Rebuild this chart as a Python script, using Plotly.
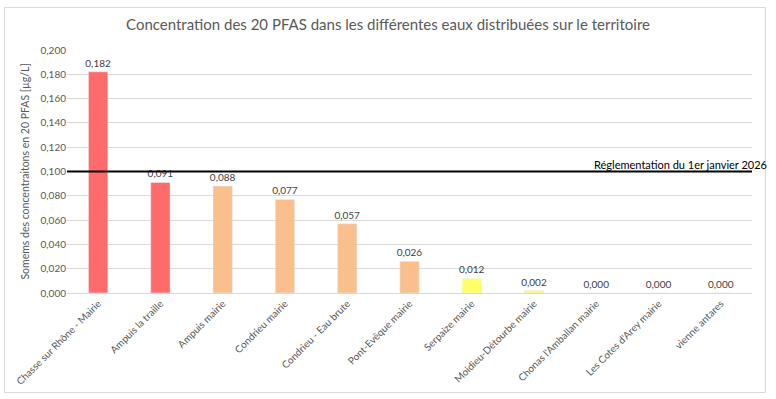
import plotly.graph_objects as go

categories = ["Chasse sur Rhône - Mairie", "Ampuis la traille", "Ampuis mairie", "Condrieu mairie",
              "Condrieu - Eau brute", "Pont-Evêque mairie", "Serpaize mairie", "Moidieu-Détourbe mairie",
              "Chonas l'Amballan mairie", "Les Cotes d'Arey mairie", "vienne antares"]
values = [0.182, 0.091, 0.088, 0.077, 0.057, 0.026, 0.012, 0.002, 0.0, 0.0, 0.0]
bar_colors = ["#FF6B6B", "#FF6B6B", "#F9C08E", "#F9C08E", "#F9C08E", "#F9C08E",
              "#FFFF66", "#FFFF66", "#FFFF66", "#FFFF66", "#FFFF66"]
threshold = 0.1
threshold_label = "Réglementation du 1er janvier 2026"
y_ticks = [0.0, 0.02, 0.04, 0.06, 0.08, 0.10, 0.12, 0.14, 0.16, 0.18, 0.20]

FONT = "Lato, Open Sans, sans-serif"

L, R, T, B = 67, 24, 50, 106
W, H = 776, 399
pw, ph = W - L - R, H - T - B

def px_to_paper_x(px):
    return (px - L) / pw

def px_to_paper_y(py):
    return (H - B - py) / ph

fig = go.Figure()
fig.add_trace(go.Bar(
    x=categories, y=values, marker_color=bar_colors, width=0.31,
    texttemplate="%{y:.3f}", textposition="outside", cliponaxis=False,
    constraintext="none",
    textfont=dict(size=10, color="#404040", family=FONT),
    hoverinfo="skip",
))

fig.add_shape(type="line", xref="paper", yref="y", x0=0, x1=1, y0=threshold, y1=threshold,
              line=dict(color="black", width=2))
fig.add_annotation(xref="paper", yref="y", x=px_to_paper_x(769), y=threshold, text=threshold_label,
                   showarrow=False, xanchor="right", yanchor="bottom", yshift=-1,
                   font=dict(size=11, color="black", family=FONT))
fig.add_shape(type="rect", xref="paper", yref="paper",
              x0=px_to_paper_x(4.5), x1=px_to_paper_x(765.5),
              y0=px_to_paper_y(392.5), y1=px_to_paper_y(7.5),
              line=dict(color="#D9D9D9", width=1), layer="below")

fig.update_layout(
    width=W, height=H,
    margin=dict(l=L, r=R, t=T, b=B),
    paper_bgcolor="white", plot_bgcolor="white",
    separators=", ",
    showlegend=False,
    font=dict(family=FONT, color="#595959", size=10),
    title=dict(text="Concentration des 20 PFAS dans les différentes eaux distribuées sur le territoire",
               x=0.5, xanchor="center", y=1 - 25 / H, yanchor="middle",
               font=dict(size=15, color="#595959", family=FONT)),
)
fig.update_yaxes(range=[0, 0.2], tickvals=y_ticks, tickformat=".3f", showgrid=True,
                 gridcolor="#D9D9D9", gridwidth=1, zeroline=False, showline=False,
                 automargin=False,
                 tickfont=dict(size=10, color="#595959"), ticks="", ticklen=0,
                 title=dict(text="Somems des concentraitons en 20 PFAS [µg/L]",
                            font=dict(size=10.5, color="#595959"), standoff=8))
fig.update_xaxes(tickangle=-45, showline=True, linecolor="#D9D9D9", linewidth=1,
                 automargin=False,
                 tickfont=dict(size=10, color="#595959"), ticks="")

fig.write_html("out.html", config={"displayModeBar": False},
               post_script="document.body.style.margin='0';document.body.style.overflow='hidden';")
